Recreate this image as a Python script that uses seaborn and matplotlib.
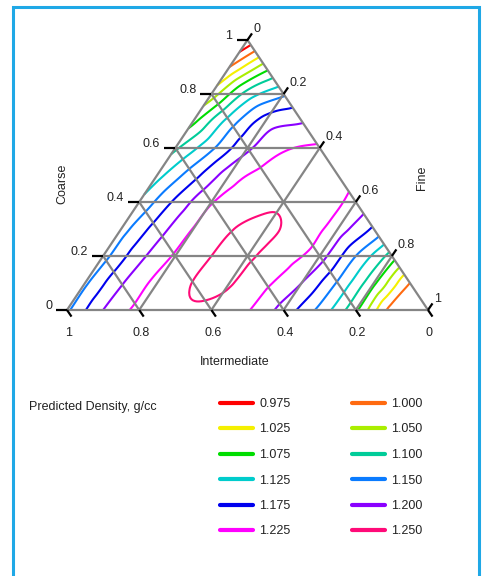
import matplotlib
matplotlib.use("Agg")
import matplotlib.pyplot as plt
import matplotlib.tri as mtri
from matplotlib.lines import Line2D
from matplotlib.patches import Rectangle
import numpy as np
import pandas as pd
import seaborn as sns

sns.set_theme(style="white")
plt.rcParams["font.family"] = ["Liberation Sans", "DejaVu Sans"]

# lattice: one row per coarse level, fine = 0, 0.1, ...
coarse_levels = [0.0, 0.1, 0.2, 0.3, 0.4, 0.5, 0.6, 0.7, 0.8, 0.9, 1.0]
fine_levels = [0.0, 0.1, 0.2, 0.3, 0.4, 0.5, 0.6, 0.7, 0.8, 0.9, 1.0]

density_c00 = [1.145, 1.200, 1.232, 1.2465, 1.2465, 1.227, 1.190, 1.143, 1.080, 0.990, 0.985]
density_c01 = [1.145, 1.197, 1.232, 1.2505, 1.2515, 1.230, 1.200, 1.147, 1.080, 1.000]
density_c02 = [1.140, 1.192, 1.228, 1.2500, 1.2525, 1.236, 1.210, 1.150, 1.088]
density_c03 = [1.138, 1.187, 1.226, 1.2485, 1.2535, 1.240, 1.212, 1.170]
density_c04 = [1.128, 1.180, 1.223, 1.240, 1.247, 1.238, 1.216]
density_c05 = [1.115, 1.165, 1.212, 1.233, 1.238, 1.232]
density_c06 = [1.095, 1.145, 1.195, 1.222, 1.228]
density_c07 = [1.068, 1.135, 1.185, 1.197]
density_c08 = [1.035, 1.110, 1.145]
density_c09 = [1.000, 1.063]
density_c10 = [0.955]

density_rows = [density_c00, density_c01, density_c02, density_c03, density_c04,
                density_c05, density_c06, density_c07, density_c08, density_c09,
                density_c10]

contour_levels = [0.975, 1.000, 1.025, 1.050, 1.075, 1.100,
                  1.125, 1.150, 1.175, 1.200, 1.225, 1.250]
contour_labels = ["0.975", "1.000", "1.025", "1.050", "1.075", "1.100",
                  "1.125", "1.150", "1.175", "1.200", "1.225", "1.250"]
contour_colors = ["#ff0000", "#ff6a10", "#f5f000", "#aaee00", "#00dd00", "#00cc99",
                  "#00cccc", "#0a7bff", "#0000ee", "#8a00ff", "#ff00ff", "#ff0a78"]

tick_values = [0.0, 0.2, 0.4, 0.6, 0.8, 1.0]
tick_labels = ["0", "0.2", "0.4", "0.6", "0.8", "1"]
grid_values = [0.0, 0.2, 0.4, 0.6, 0.8]

# pixel layout of the triangle
X0, Y0, SIDE, HEIGHT = 67.0, 310.0, 361.0, 270.0
W, H = 487, 576


def px(xp, yp):
    return (xp - X0) / SIDE, (Y0 - yp) / HEIGHT


def dpx(dx, dy):
    return dx / SIDE, -dy / HEIGHT


fig = plt.figure(figsize=(W / 100, H / 100), dpi=100)
ax = fig.add_axes([0, 0, 1, 1])
ax.set_xlim(px(0, 0)[0], px(W, 0)[0])
ax.set_ylim(px(0, H)[1], px(0, 0)[1])
ax.axis("off")

# ternary -> cartesian (x = fine + coarse / 2, y = coarse)
xs, ys, zs = [], [], []
for c, row in zip(coarse_levels, density_rows):
    for f, d in zip(fine_levels[:len(row)], row):
        xs.append(f + c / 2)
        ys.append(c)
        zs.append(d)

tri = mtri.Triangulation(np.array(xs), np.array(ys))
z = np.array(zs)
interp = mtri.CubicTriInterpolator(tri, z, kind="geom")
tri_f, z_f = mtri.UniformTriRefiner(tri).refine_field(z, triinterpolator=interp, subdiv=4)
ax.tricontour(tri_f, z_f, levels=contour_levels, colors=contour_colors,
              linewidths=1.5, zorder=2)

# triangular grid
grid_rows = []
for t in grid_values:
    grid_rows += [("c%.1f" % t, t / 2, t), ("c%.1f" % t, 1 - t / 2, t)]
    grid_rows += [("f%.1f" % t, t, 0.0), ("f%.1f" % t, t + (1 - t) / 2, 1 - t)]
    grid_rows += [("i%.1f" % t, 1 - t, 0.0), ("i%.1f" % t, (1 - t) / 2, 1 - t)]
grid_df = pd.DataFrame(grid_rows, columns=["line", "x", "y"])
sns.lineplot(data=grid_df, x="x", y="y", units="line", estimator=None, sort=False,
             color="#858585", linewidth=1.6, ax=ax, legend=False, zorder=3)

tick_kw = dict(color="black", lw=1.6, solid_capstyle="butt", clip_on=False, zorder=4)
text_kw = dict(fontsize=9, color="#222222")

# coarse axis (left edge)
for v, lab in zip(tick_values, tick_labels):
    x, y = v / 2, v
    dx, _ = dpx(11, 0)
    ax.plot([x - dx, x], [y, y], **tick_kw)
    ox, oy = dpx(15, -4)
    ax.text(x - ox, y + oy, lab, ha="right", va="center", **text_kw)

# fine axis (right edge)
for v, lab in zip(tick_values, tick_labels):
    x, y = (1 + v) / 2, 1 - v
    ex, ey = dpx(4.5, -6.6)
    ax.plot([x, x + ex], [y, y + ey], **tick_kw)
    lx, ly = dpx(1.5, -4)
    ax.text(x + ex + lx, y + ey + ly, lab, ha="left", va="center", **text_kw)

# intermediate axis (bottom edge)
for v, lab in zip(tick_values, tick_labels):
    x, y = 1 - v, 0.0
    ex, ey = dpx(4.5, 6.6)
    ax.plot([x, x + ex], [y, y + ey], **tick_kw)
    lx, ly = dpx(1.5, 23)
    ax.text(x + lx, y + ly, lab, ha="center", va="center", **text_kw)

ax.text(*px(62, 184), "Coarse", rotation=90, ha="center", va="center", **text_kw)
ax.text(*px(422, 178), "Fine", rotation=90, ha="center", va="center", **text_kw)
ax.text(*px(235, 362), "Intermediate", ha="center", va="center", **text_kw)

# legend
ax.text(*px(29, 407), "Predicted Density, g/cc", ha="left", va="center", **text_kw)
handles = [Line2D([], [], color=col, lw=3, solid_capstyle="round", label=lab)
           for col, lab in zip(contour_colors, contour_labels)]
order = [0, 2, 4, 6, 8, 10, 1, 3, 5, 7, 9, 11]
leg = fig.legend([handles[k] for k in order], [contour_labels[k] for k in order],
                 ncol=2, loc="upper left", bbox_to_anchor=(220 / W, 1 - 398 / H),
                 frameon=False, fontsize=9, handlelength=2.6, handletextpad=0.52,
                 labelspacing=1.08, columnspacing=4.96, borderpad=0, borderaxespad=0)
for txt in leg.get_texts():
    txt.set_color("#222222")

# blue frame round the figure
fig.patches.append(Rectangle((12.5 / W, -0.02), (479 - 12.5) / W, 1.02 - 7 / H,
                             transform=fig.transFigure, fill=False,
                             edgecolor="#1fa8e6", lw=2.2))

fig.savefig("out.png", dpi=100)
plt.close(fig)
